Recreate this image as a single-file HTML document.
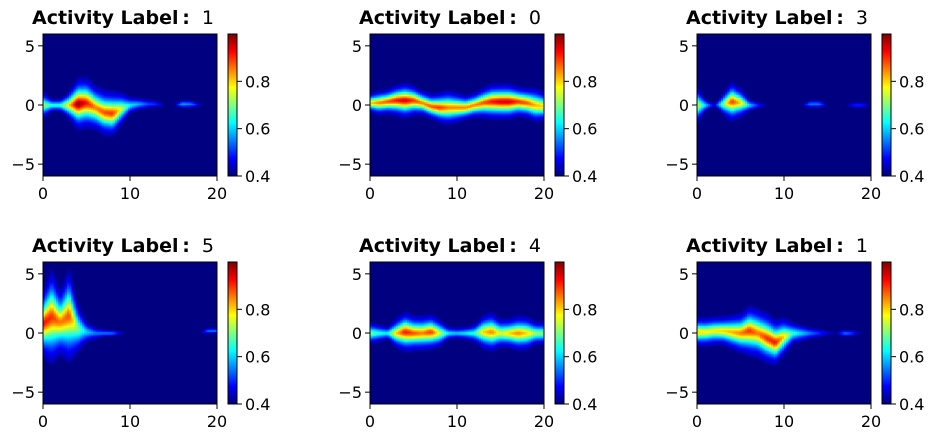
<!DOCTYPE html>
<html><head><meta charset="utf-8">
<style>
body{margin:0;background:#fff;}
svg{display:block;font-family:"DejaVu Sans","Liberation Sans",sans-serif;}
</style></head>
<body>
<svg id="fig" width="941" height="442" viewBox="0 0 941 442"></svg>
<script>
const panelLabels = ["1","0","3","5","4","1"];
const xTicks = [0,10,20];
const yTicks = [5,0,-5];
const cbTicks = [0.4,0.6,0.8];
const cbTickLabels = ["0.4","0.6","0.8"];
const center1=[0,0,0,0,0.1,0.2,-0.2,-0.6,-0.7,-0.3,0,0.1,0.1,0.1,0,0,0.1,0.1,0,0,0];
const width1=[0.6,0.3,0.3,0.6,1.0,1.0,0.9,0.9,0.9,0.7,0.4,0.3,0.25,0.2,0.1,0.1,0.2,0.2,0.1,0.1,0.1];
const peak1=[0.72,0.65,0.65,0.8,1.0,0.92,0.85,0.88,0.9,0.75,0.62,0.58,0.52,0.5,0.42,0.4,0.58,0.55,0.45,0.4,0.4];
const center2=[0.2,0.2,0.3,0.4,0.4,0.4,0.2,-0.1,-0.2,-0.2,-0.2,-0.2,0,0.2,0.3,0.3,0.3,0.3,0.2,0,-0.1];
const width2=[0.4,0.5,0.5,0.6,0.7,0.6,0.5,0.5,0.6,0.7,0.6,0.5,0.5,0.6,0.7,0.7,0.7,0.6,0.6,0.7,0.6];
const peak2=[0.8,0.85,0.88,0.92,0.95,0.9,0.85,0.88,0.9,0.85,0.85,0.85,0.85,0.88,0.92,0.95,0.95,0.9,0.88,0.82,0.8];
const center3=[0,0,0,0.1,0.3,0.2,0,0,0,0,0,0,0,0.1,0.1,0,0,0,0,0,0];
const width3=[0.8,0.3,0.1,0.5,0.8,0.6,0.3,0.2,0.1,0.1,0.1,0.1,0.1,0.2,0.2,0.1,0.1,0.1,0.15,0.15,0.1];
const peak3=[0.75,0.6,0.45,0.7,0.9,0.8,0.6,0.5,0.42,0.4,0.4,0.4,0.4,0.55,0.55,0.4,0.4,0.4,0.5,0.5,0.4];
const center4=[0.8,1.4,0.9,1.5,0.4,0.1,0,0,0,0,0,0,0,0,0,0,0,0,0,0.2,0.2];
const width4=[1.3,1.9,1.3,1.9,1.1,0.5,0.3,0.2,0.15,0.1,0.1,0.1,0.1,0.1,0.1,0.1,0.1,0.1,0.1,0.15,0.15];
const peak4=[0.92,0.9,0.85,0.88,0.7,0.6,0.55,0.55,0.55,0.45,0.4,0.4,0.4,0.4,0.4,0.4,0.4,0.4,0.4,0.55,0.55];
const center5=[0,0,0,0,0.1,0,0,0.1,0,0,0,0,0,0.1,0.1,0,0,0,0,0,0];
const width5=[0.5,0.4,0.3,0.6,0.8,0.7,0.7,0.7,0.6,0.3,0.25,0.3,0.4,0.7,0.8,0.6,0.6,0.7,0.7,0.5,0.5];
const peak5=[0.7,0.65,0.62,0.8,0.92,0.88,0.85,0.9,0.75,0.62,0.6,0.62,0.65,0.8,0.85,0.75,0.8,0.85,0.8,0.72,0.7];
const center6=[0.1,0.1,0.2,0.2,0.1,0,0.2,0,-0.4,-0.8,-0.3,0,0,0,0,0,0,0,0,0,0];
const width6=[0.6,0.6,0.6,0.6,0.7,0.8,1.0,1.0,1.0,0.9,0.8,0.5,0.4,0.3,0.25,0.2,0.15,0.2,0.15,0.1,0.1];
const peak6=[0.8,0.78,0.78,0.8,0.82,0.85,0.9,0.85,0.9,0.92,0.8,0.65,0.6,0.55,0.5,0.45,0.42,0.55,0.5,0.4,0.4];
const centers=[center1,center2,center3,center4,center5,center6];
const widths=[width1,width2,width3,width4,width5,width6];
const peaks=[peak1,peak2,peak3,peak4,peak5,peak6];

const NS="http://www.w3.org/2000/svg";
const svg=document.getElementById('fig');
function mk(tag,attrs,parent){const e=document.createElementNS(NS,tag);for(const k in attrs)e.setAttribute(k,attrs[k]);(parent||svg).appendChild(e);return e;}
function clamp(v){return Math.max(0,Math.min(1,v));}
function jet(t){t=clamp(t);const r=clamp(1.5-Math.abs(4*t-3)),g=clamp(1.5-Math.abs(4*t-2)),b=clamp(1.5-Math.abs(4*t-1));
 return `rgb(${Math.round(r*255)},${Math.round(g*255)},${Math.round(b*255)})`;}
function lerpArr(a,x){const i=Math.floor(x),j=Math.min(a.length-1,i+1),f=x-i;return a[i]*(1-f)+a[j]*f;}
const VMIN=0.4,VMAX=1.0;
const AX_W=174,AX_H=142;
const lefts=[43,370,697],tops=[34,262];

for(let p=0;p<6;p++){
 const L=lefts[p%3],T=tops[Math.floor(p/3)];
 const g=mk('g',{});
 
 
 const xs=v=>L+v/20*AX_W;
 const ys=v=>T+(6-v)/12*AX_H;
 const bg=mk('rect',{x:L,y:T,width:AX_W,height:AX_H,fill:jet(0)},g);
 
 
 const hm=mk('g',{},g);
 
 
 const c=centers[p],w=widths[p],pk=peaks[p];
 const dy=0.125,dx=0.25;
 for(let xv=0;xv<20;xv+=dx){
  const xm=xv+dx/2;
  const cc=lerpArr(c,xm),ww=lerpArr(w,xm)*1.1,pp=lerpArr(pk,xm);
  for(let yv=-6;yv<6;yv+=dy){
   const ym=yv+dy/2;
   const d=Math.abs(ym-cc)/ww;
   const v=VMIN+(pp-VMIN)*Math.exp(-Math.pow(d,1.6));
   if(v<0.425)continue;
   const r=mk('rect',{x:xs(xv),y:ys(yv+dy),width:xs(xv+dx)-xs(xv)+0.3,height:dy/12*AX_H+0.3,fill:jet((v-VMIN)/(VMAX-VMIN))},hm);
   
   
  }
 }
 const fr=mk('rect',{x:L,y:T,width:AX_W,height:AX_H,fill:'none',stroke:'#000','stroke-width':1},g);
 
 
 xTicks.forEach(t=>{
  mk('line',{x1:xs(t),x2:xs(t),y1:T+AX_H,y2:T+AX_H+5,stroke:'#000'},g);
  const tx=mk('text',{x:xs(t),y:T+AX_H+23,'font-size':16,'text-anchor':'middle'},g);
  tx.textContent=t;
  
  
 });
 yTicks.forEach(t=>{
  mk('line',{x1:L-5,x2:L,y1:ys(t),y2:ys(t),stroke:'#000'},g);
  const tx=mk('text',{x:L-8,y:ys(t)+6,'font-size':16,'text-anchor':'end'},g);
  tx.textContent=t<0?'\u2212'+Math.abs(t):t;
  
  
 });
 const title=mk('text',{x:L-11,y:T-10,'font-size':19},g);
 
 
 const b=mk('tspan',{'font-weight':'bold'},title);b.textContent='Activity Label\u2009:';
 const n=mk('tspan',{},title);n.textContent=' '+panelLabels[p];
 n.setAttribute('dx','6');
 const CX=L+185,CW=9;
 const cb=mk('g',{},g);
 
 
 for(let k=0;k<AX_H;k++){
  const t=1-(k+0.5)/AX_H;
  mk('rect',{x:CX,y:T+k,width:CW,height:1.2,fill:jet(t)},cb);
 }
 mk('rect',{x:CX,y:T,width:CW,height:AX_H,fill:'none',stroke:'#000','stroke-width':1},cb);
 const cy=v=>T+AX_H-(v-VMIN)/(VMAX-VMIN)*AX_H;
 cbTicks.forEach((t,j)=>{
  mk('line',{x1:CX+CW,x2:CX+CW+5,y1:cy(t),y2:cy(t),stroke:'#000'},cb);
  const tx=mk('text',{x:CX+CW+8,y:cy(t)+6,'font-size':16},cb);
  tx.textContent=cbTickLabels[j];
  
  
 });
}
</script>
</body></html>
